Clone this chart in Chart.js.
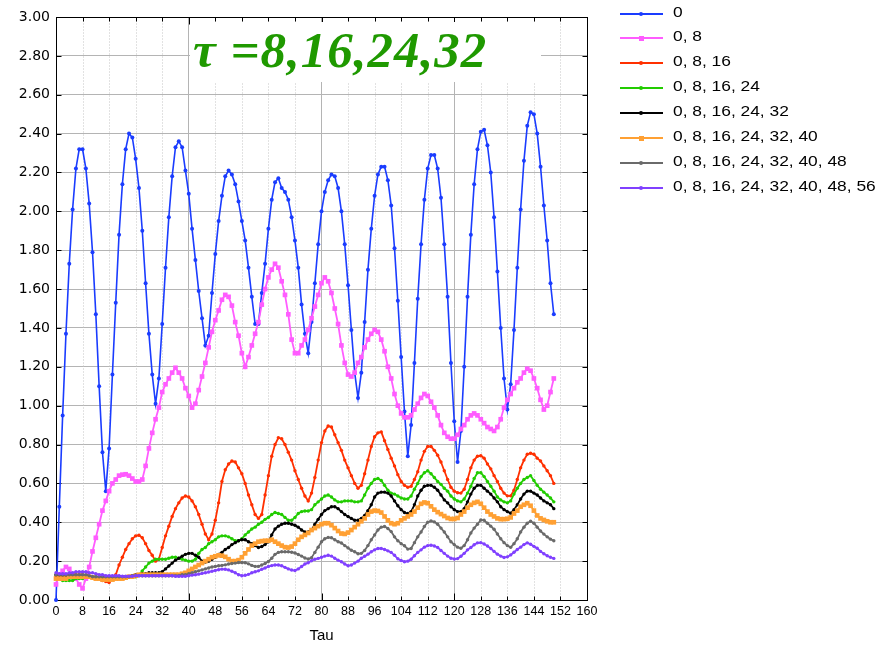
<!DOCTYPE html>
<html lang="pt-BR">
<head>
<meta charset="utf-8">
<title>Tau</title>
<script src="https://cdn.jsdelivr.net/npm/chart.js@4.4.1/dist/chart.umd.min.js"></script>
<style>
  body { margin: 0; background: #fff; }
  #quadro { position: relative; width: 884px; height: 645px; }
  #titulo {
    position: absolute; left: 190px; top: 22px; width: 351px; height: 60px;
    background: #fff; box-sizing: border-box; padding: 3px 0 0 3px;
    font: italic bold 51px "Liberation Serif", "Times New Roman", serif;
    line-height: 51px; letter-spacing: 1px; color: #1f9900; white-space: nowrap;
  }
  .item { position: absolute; left: 620px; width: 264px; height: 20px; }
  .traco { position: absolute; left: 0; top: 9px; width: 43px; height: 2px; }
  .marca { position: absolute; }
  .rotulo {
    position: absolute; left: 53px; top: 0; line-height: 20px;
    font: 14px "Liberation Sans", Arial, sans-serif; color: #000;
    transform: scaleX(1.24); transform-origin: left center; white-space: nowrap;
  }
</style>
</head>
<body>
<div id="quadro">
  <canvas id="grafico" width="884" height="645"></canvas>
  <div id="titulo">τ =8,16,24,32</div>
  <div id="legenda"></div>
</div>
<script>
// ================================
// Dados, tau = 0..150
// ================================
const serie0 = [
  0.00, 0.48, 0.95, 1.37, 1.73, 2.01, 2.22, 2.32, 2.32, 2.22,
  2.04, 1.79, 1.47, 1.10, 0.76, 0.56, 0.78, 1.16, 1.53, 1.88,
  2.14, 2.32, 2.40, 2.38, 2.27, 2.12, 1.90, 1.63, 1.37, 1.16,
  1.01, 1.14, 1.42, 1.71, 1.97, 2.18, 2.33, 2.36, 2.33, 2.21,
  2.09, 1.91, 1.75, 1.59, 1.45, 1.31, 1.36, 1.58, 1.78, 1.95,
  2.08, 2.18, 2.21, 2.19, 2.14, 2.05, 1.95, 1.85, 1.71, 1.56,
  1.42, 1.42, 1.58, 1.73, 1.91, 2.06, 2.15, 2.17, 2.12, 2.10,
  2.06, 1.97, 1.85, 1.71, 1.52, 1.37, 1.27, 1.43, 1.63, 1.83,
  2.00, 2.10, 2.16, 2.19, 2.18, 2.12, 2.00, 1.83, 1.62, 1.39,
  1.17, 1.04, 1.17, 1.43, 1.70, 1.91, 2.08, 2.19, 2.23, 2.23,
  2.16, 2.03, 1.81, 1.54, 1.25, 0.97, 0.74, 0.90, 1.22, 1.55,
  1.83, 2.06, 2.22, 2.29, 2.29, 2.22, 2.07, 1.83, 1.56, 1.22,
  0.92, 0.71, 0.87, 1.20, 1.56, 1.88, 2.14, 2.32, 2.41, 2.42,
  2.34, 2.20, 1.97, 1.69, 1.40, 1.14, 0.98, 1.11, 1.39, 1.71,
  2.01, 2.26, 2.44, 2.51, 2.50, 2.40, 2.23, 2.03, 1.85, 1.63,
  1.47,
]

const serie8 = [
  0.08, 0.13, 0.15, 0.17, 0.16, 0.13, 0.11, 0.08, 0.06, 0.11,
  0.17, 0.25, 0.32, 0.39, 0.46, 0.51, 0.56, 0.60, 0.62, 0.64,
  0.645, 0.647, 0.64, 0.625, 0.61, 0.61, 0.62, 0.69, 0.78, 0.86,
  0.93, 0.99, 1.07, 1.11, 1.14, 1.17, 1.195, 1.17, 1.14, 1.09,
  1.05, 0.99, 1.01, 1.08, 1.15, 1.22, 1.30, 1.38, 1.44, 1.49,
  1.545, 1.57, 1.56, 1.515, 1.43, 1.36, 1.27, 1.20, 1.25, 1.31,
  1.37, 1.43, 1.52, 1.60, 1.66, 1.70, 1.73, 1.71, 1.64, 1.57,
  1.47, 1.34, 1.27, 1.27, 1.31, 1.34, 1.39, 1.45, 1.51, 1.57,
  1.63, 1.66, 1.64, 1.58, 1.50, 1.42, 1.31, 1.22, 1.16, 1.15,
  1.17, 1.22, 1.25, 1.30, 1.34, 1.37, 1.39, 1.38, 1.34, 1.28,
  1.20, 1.14, 1.06, 1.00, 0.96, 0.94, 0.94, 0.95, 0.98, 1.01,
  1.04, 1.06, 1.05, 1.02, 0.99, 0.95, 0.90, 0.86, 0.84, 0.83,
  0.83, 0.85, 0.88, 0.90, 0.93, 0.95, 0.96, 0.95, 0.93, 0.91,
  0.89, 0.88, 0.87, 0.89, 0.93, 0.99, 1.03, 1.06, 1.09, 1.12,
  1.14, 1.17, 1.19, 1.18, 1.14, 1.09, 1.03, 0.98, 1.00, 1.07,
  1.14,
]

const serie16 = [
  0.12, 0.12, 0.12, 0.12, 0.13, 0.13, 0.13, 0.13, 0.13, 0.12,
  0.12, 0.12, 0.11, 0.11, 0.10, 0.095, 0.09, 0.11, 0.13, 0.18,
  0.22, 0.26, 0.29, 0.315, 0.33, 0.333, 0.32, 0.29, 0.255, 0.23,
  0.20, 0.21, 0.27, 0.33, 0.38, 0.43, 0.47, 0.50, 0.525, 0.535,
  0.53, 0.51, 0.48, 0.44, 0.39, 0.34, 0.31, 0.34, 0.41, 0.50,
  0.61, 0.67, 0.70, 0.715, 0.71, 0.68, 0.65, 0.60, 0.54, 0.49,
  0.44, 0.42, 0.44, 0.54, 0.64, 0.74, 0.80, 0.835, 0.83, 0.80,
  0.76, 0.72, 0.665, 0.62, 0.575, 0.535, 0.51, 0.55, 0.63, 0.72,
  0.81, 0.87, 0.895, 0.89, 0.85, 0.81, 0.77, 0.72, 0.68, 0.64,
  0.60, 0.575, 0.59, 0.65, 0.72, 0.79, 0.84, 0.86, 0.865, 0.82,
  0.775, 0.73, 0.69, 0.645, 0.61, 0.59, 0.58, 0.585, 0.62, 0.66,
  0.72, 0.765, 0.79, 0.79, 0.77, 0.745, 0.71, 0.665, 0.62, 0.58,
  0.56, 0.552, 0.55, 0.57, 0.62, 0.68, 0.72, 0.74, 0.742, 0.73,
  0.70, 0.675, 0.64, 0.61, 0.575, 0.55, 0.536, 0.536, 0.565, 0.62,
  0.68, 0.72, 0.75, 0.755, 0.75, 0.73, 0.715, 0.69, 0.665, 0.64,
  0.60,
]

const serie24 = [
  0.11, 0.11, 0.10, 0.10, 0.10, 0.10, 0.11, 0.11, 0.11, 0.12,
  0.12, 0.12, 0.12, 0.11, 0.11, 0.11, 0.11, 0.11, 0.12, 0.12,
  0.12, 0.12, 0.12, 0.12, 0.12, 0.13, 0.15, 0.17, 0.19, 0.20,
  0.21, 0.21, 0.21, 0.21, 0.215, 0.22, 0.22, 0.215, 0.21, 0.205,
  0.20, 0.20, 0.21, 0.24, 0.26, 0.27, 0.29, 0.30, 0.31, 0.325,
  0.33, 0.33, 0.325, 0.315, 0.305, 0.305, 0.315, 0.335, 0.35, 0.365,
  0.375, 0.39, 0.40, 0.415, 0.425, 0.44, 0.45, 0.445, 0.44, 0.425,
  0.41, 0.41, 0.425, 0.445, 0.455, 0.458, 0.458, 0.465, 0.49, 0.505,
  0.52, 0.535, 0.54, 0.53, 0.515, 0.505, 0.505, 0.51, 0.51, 0.51,
  0.505, 0.505, 0.51, 0.54, 0.575, 0.60, 0.62, 0.625, 0.615, 0.59,
  0.565, 0.55, 0.545, 0.535, 0.525, 0.52, 0.52, 0.535, 0.57, 0.60,
  0.635, 0.655, 0.665, 0.65, 0.63, 0.61, 0.595, 0.575, 0.56, 0.535,
  0.52, 0.51, 0.505, 0.52, 0.55, 0.585, 0.625, 0.655, 0.655, 0.635,
  0.61, 0.585, 0.56, 0.53, 0.515, 0.505, 0.50, 0.51, 0.545, 0.575,
  0.60, 0.62, 0.63, 0.64, 0.615, 0.59, 0.57, 0.555, 0.54, 0.525,
  0.505,
]

const serie32 = [
  0.13, 0.13, 0.12, 0.12, 0.12, 0.12, 0.12, 0.12, 0.12, 0.12,
  0.12, 0.115, 0.11, 0.11, 0.11, 0.11, 0.11, 0.115, 0.12, 0.12,
  0.12, 0.12, 0.12, 0.125, 0.13, 0.13, 0.135, 0.135, 0.14, 0.14,
  0.14, 0.14, 0.145, 0.16, 0.175, 0.19, 0.205, 0.215, 0.225, 0.235,
  0.24, 0.24, 0.23, 0.22, 0.20, 0.195, 0.20, 0.21, 0.22, 0.235,
  0.245, 0.26, 0.27, 0.285, 0.295, 0.305, 0.31, 0.31, 0.30, 0.29,
  0.28, 0.27, 0.275, 0.285, 0.30, 0.335, 0.365, 0.38, 0.39, 0.395,
  0.395, 0.39, 0.385, 0.375, 0.36, 0.35, 0.35, 0.36, 0.39, 0.415,
  0.44, 0.46, 0.47, 0.48, 0.48, 0.47, 0.455, 0.44, 0.43, 0.42,
  0.41, 0.41, 0.42, 0.435, 0.46, 0.49, 0.53, 0.55, 0.555, 0.555,
  0.55, 0.535, 0.51, 0.485, 0.465, 0.45, 0.445, 0.455, 0.49, 0.535,
  0.565, 0.585, 0.59, 0.59, 0.58, 0.565, 0.54, 0.515, 0.50, 0.48,
  0.465, 0.455, 0.455, 0.47, 0.505, 0.545, 0.575, 0.59, 0.59, 0.575,
  0.56, 0.545, 0.525, 0.505, 0.48, 0.465, 0.455, 0.447, 0.465, 0.49,
  0.52, 0.545, 0.56, 0.56, 0.55, 0.54, 0.525, 0.51, 0.50, 0.49,
  0.47,
]

const serie40 = [
  0.11, 0.11, 0.11, 0.11, 0.12, 0.12, 0.12, 0.12, 0.12, 0.12,
  0.12, 0.115, 0.11, 0.11, 0.105, 0.105, 0.105, 0.105, 0.11, 0.11,
  0.11, 0.115, 0.12, 0.12, 0.125, 0.13, 0.13, 0.13, 0.13, 0.13,
  0.13, 0.13, 0.13, 0.13, 0.13, 0.13, 0.13, 0.13, 0.135, 0.14,
  0.15, 0.16, 0.17, 0.18, 0.19, 0.20, 0.21, 0.22, 0.225, 0.23,
  0.228, 0.222, 0.21, 0.20, 0.20, 0.205, 0.22, 0.24, 0.26, 0.28,
  0.29, 0.30, 0.303, 0.305, 0.305, 0.31, 0.30, 0.29, 0.28, 0.272,
  0.27, 0.275, 0.29, 0.31, 0.325, 0.335, 0.345, 0.36, 0.37, 0.38,
  0.39, 0.395, 0.395, 0.385, 0.37, 0.355, 0.342, 0.34, 0.347, 0.36,
  0.375, 0.39, 0.405, 0.42, 0.44, 0.455, 0.46, 0.458, 0.45, 0.43,
  0.41, 0.395, 0.39, 0.395, 0.41, 0.42, 0.43, 0.44, 0.455, 0.475,
  0.495, 0.502, 0.498, 0.482, 0.465, 0.452, 0.442, 0.432, 0.422, 0.417,
  0.417, 0.422, 0.44, 0.455, 0.475, 0.49, 0.50, 0.505, 0.495, 0.475,
  0.455, 0.44, 0.43, 0.42, 0.416, 0.416, 0.418, 0.425, 0.445, 0.46,
  0.48, 0.49, 0.498, 0.485, 0.46, 0.435, 0.42, 0.412, 0.405, 0.40,
  0.40,
]

const serie48 = [
  0.13, 0.13, 0.13, 0.13, 0.13, 0.13, 0.13, 0.13, 0.13, 0.13,
  0.125, 0.12, 0.12, 0.12, 0.12, 0.12, 0.12, 0.12, 0.12, 0.12,
  0.12, 0.12, 0.12, 0.125, 0.125, 0.125, 0.125, 0.125, 0.125, 0.125,
  0.125, 0.125, 0.125, 0.125, 0.125, 0.125, 0.125, 0.125, 0.13, 0.13,
  0.135, 0.14, 0.145, 0.15, 0.155, 0.16, 0.165, 0.17, 0.173, 0.176,
  0.178, 0.181, 0.185, 0.188, 0.19, 0.193, 0.193, 0.192, 0.186, 0.178,
  0.173, 0.173, 0.18, 0.188, 0.198, 0.215, 0.235, 0.245, 0.248, 0.248,
  0.248, 0.246, 0.242, 0.234, 0.226, 0.216, 0.211, 0.218, 0.245, 0.272,
  0.30, 0.315, 0.322, 0.32, 0.31, 0.30, 0.293, 0.28, 0.268, 0.256,
  0.248, 0.238, 0.24, 0.255, 0.28, 0.31, 0.335, 0.36, 0.375, 0.378,
  0.368, 0.352, 0.325, 0.305, 0.29, 0.279, 0.262, 0.265, 0.295, 0.325,
  0.35, 0.378, 0.40, 0.407, 0.402, 0.39, 0.37, 0.35, 0.325, 0.30,
  0.285, 0.272, 0.266, 0.28, 0.31, 0.345, 0.37, 0.39, 0.412, 0.41,
  0.395, 0.38, 0.364, 0.34, 0.315, 0.295, 0.28, 0.271, 0.29, 0.315,
  0.35, 0.375, 0.395, 0.405, 0.395, 0.375, 0.355, 0.339, 0.325, 0.313,
  0.305,
]

const serie56 = [
  0.14, 0.135, 0.135, 0.135, 0.14, 0.14, 0.145, 0.145, 0.145, 0.145,
  0.14, 0.14, 0.135, 0.13, 0.13, 0.125, 0.125, 0.125, 0.125, 0.125,
  0.122, 0.122, 0.122, 0.122, 0.125, 0.125, 0.125, 0.125, 0.125, 0.125,
  0.125, 0.125, 0.125, 0.125, 0.125, 0.125, 0.122, 0.122, 0.122, 0.122,
  0.125, 0.128, 0.13, 0.133, 0.137, 0.14, 0.144, 0.148, 0.152, 0.156,
  0.159, 0.158, 0.155, 0.148, 0.14, 0.13, 0.125, 0.127, 0.132, 0.14,
  0.145, 0.15, 0.158, 0.165, 0.172, 0.177, 0.18, 0.18, 0.176, 0.168,
  0.16, 0.154, 0.152, 0.16, 0.172, 0.185, 0.192, 0.202, 0.21, 0.214,
  0.22, 0.226, 0.23, 0.226, 0.215, 0.205, 0.197, 0.185, 0.176, 0.18,
  0.19, 0.20, 0.215, 0.225, 0.236, 0.248, 0.258, 0.265, 0.265, 0.26,
  0.253, 0.245, 0.23, 0.212, 0.203, 0.197, 0.20, 0.21, 0.228, 0.245,
  0.258, 0.272, 0.28, 0.282, 0.278, 0.27, 0.255, 0.24, 0.226, 0.215,
  0.211, 0.213, 0.225, 0.24, 0.258, 0.27, 0.284, 0.294, 0.295, 0.288,
  0.278, 0.265, 0.25, 0.236, 0.226, 0.219, 0.222, 0.232, 0.246, 0.26,
  0.272, 0.285, 0.294, 0.287, 0.276, 0.266, 0.25, 0.238, 0.228, 0.22,
  0.214,
]

const nomesSeries = [
  "0",
  "0, 8",
  "0, 8, 16",
  "0, 8, 16, 24",
  "0, 8, 16, 24, 32",
  "0, 8, 16, 24, 32, 40",
  "0, 8, 16, 24, 32, 40, 48",
  "0, 8, 16, 24, 32, 40, 48, 56",
]
const valoresSeries = [serie0, serie8, serie16, serie24, serie32, serie40, serie48, serie56]

// eixos
const tauMin = 0
const tauMax = 160
const tauPasso = 8
const yMin = 0
const yMax = 3
const yPasso = 0.2

// ================================
// Estilo das séries
// ================================
const coresSeries = ["#1a3cff", "#ff5cff", "#ff3000", "#22cc00", "#000000", "#ffa033", "#6a6a6a", "#8040ff"]
const marcadores = ["circle", "rect", "circle", "circle", "circle", "rect", "circle", "circle"]
const raios = [2, 3.3, 1.7, 1.7, 1.7, 3.3, 1.7, 1.7]

// ================================
// Moldura, grade pontilhada e marcas internas
// ================================
const molduraPlugin = {
  id: "moldura",
  beforeDatasetsDraw(chart) {
    const { ctx, chartArea: a, scales } = chart
    const esq = Math.round(a.left) + 0.5
    const dir = Math.round(a.right) + 0.5
    const topo = Math.round(a.top) + 0.5
    const base = Math.round(a.bottom) + 0.5
    ctx.save()
    ctx.lineWidth = 1

    // grade secundária (pontilhada)
    ctx.strokeStyle = "#c4c4c4"
    ctx.setLineDash([1, 2])
    scales.x.ticks.forEach((t) => {
      if (t.value % 40 === 0) return
      const px = Math.round(scales.x.getPixelForValue(t.value)) + 0.5
      ctx.beginPath()
      ctx.moveTo(px, topo)
      ctx.lineTo(px, base)
      ctx.stroke()
    })
    ctx.setLineDash([])

    // marcas para dentro
    ctx.strokeStyle = "#000"
    scales.x.ticks.forEach((t) => {
      const px = Math.round(scales.x.getPixelForValue(t.value)) + 0.5
      const len = t.value % 40 === 0 ? 7 : 4
      ctx.beginPath()
      ctx.moveTo(px, base)
      ctx.lineTo(px, base - len)
      ctx.moveTo(px, topo)
      ctx.lineTo(px, topo + len)
      ctx.stroke()
    })
    scales.y.ticks.forEach((t) => {
      const py = Math.round(scales.y.getPixelForValue(t.value)) + 0.5
      ctx.beginPath()
      ctx.moveTo(esq, py)
      ctx.lineTo(esq + 5, py)
      ctx.moveTo(dir, py)
      ctx.lineTo(dir - 5, py)
      ctx.stroke()
    })

    ctx.strokeRect(esq, topo, dir - esq, base - topo)
    ctx.restore()
  },
}

// ================================
// Gráfico
// ================================
function renderizarGrafico() {
  const ctx = document.getElementById("grafico").getContext("2d")

  const datasets = valoresSeries.map((valores, i) => ({
    label: nomesSeries[i],
    data: valores.map((v, tau) => ({ x: tau, y: v })),
    borderColor: coresSeries[i],
    backgroundColor: coresSeries[i],
    borderWidth: i === 0 ? 1.6 : 1.8,
    pointStyle: marcadores[i],
    pointRadius: raios[i],
    pointBorderWidth: 0,
    pointBackgroundColor: coresSeries[i],
    tension: 0,
    clip: false,
  }))

  new Chart(ctx, {
    type: "line",
    data: { datasets: datasets.reverse() },
    options: {
      responsive: false,
      animation: false,
      devicePixelRatio: 1,
      layout: { padding: { top: 17, right: 297, left: 0, bottom: 0 } },
      plugins: {
        legend: { display: false },
        tooltip: { enabled: false },
      },
      scales: {
        x: {
          type: "linear",
          min: tauMin,
          max: tauMax,
          afterFit: (s) => { s.height = 45 },
          ticks: {
            stepSize: tauPasso,
            autoSkip: false,
            maxRotation: 0,
            padding: 4,
            color: "#000",
            font: { family: "'Liberation Sans', Arial, sans-serif", size: 12.5 },
          },
          grid: {
            drawTicks: false,
            color: (c) => (c.tick && c.tick.value % 40 === 0 ? "#b4b4b4" : "rgba(0,0,0,0)"),
          },
          border: { display: false },
          title: {
            display: true,
            text: "Tau",
            color: "#000",
            padding: { top: 0, bottom: 0 },
            font: { family: "'Liberation Sans', Arial, sans-serif", size: 15 },
          },
        },
        y: {
          min: yMin,
          max: yMax,
          afterFit: (s) => { s.width = 56 },
          ticks: {
            stepSize: yPasso,
            padding: 6,
            color: "#000",
            font: { family: "'DejaVu Sans', sans-serif", size: 14 },
            callback: (v) => Number(v).toFixed(2),
          },
          grid: { drawTicks: false, color: "#b4b4b4" },
          border: { display: false },
        },
      },
    },
    plugins: [molduraPlugin],
  })
}

// ================================
// Legenda (à direita)
// ================================
function montarLegenda() {
  const div = document.getElementById("legenda")
  nomesSeries.forEach((nome, i) => {
    const item = document.createElement("div")
    item.className = "item"
    item.style.top = 13.5 + i * 24.9 - 10 + "px"

    const traco = document.createElement("div")
    traco.className = "traco"
    traco.style.background = coresSeries[i]
    item.appendChild(traco)

    const marca = document.createElement("div")
    marca.className = "marca"
    const lado = marcadores[i] === "rect" ? 5 : 4
    marca.style.width = lado + "px"
    marca.style.height = lado + "px"
    marca.style.left = 21 - lado / 2 + "px"
    marca.style.top = 10 - lado / 2 + "px"
    marca.style.background = coresSeries[i]
    if (marcadores[i] === "circle") marca.style.borderRadius = "50%"
    item.appendChild(marca)

    const rotulo = document.createElement("span")
    rotulo.className = "rotulo"
    rotulo.textContent = nome
    item.appendChild(rotulo)

    div.appendChild(item)
  })
}

document.addEventListener("DOMContentLoaded", () => {
  renderizarGrafico()
  montarLegenda()
})
</script>
</body>
</html>
